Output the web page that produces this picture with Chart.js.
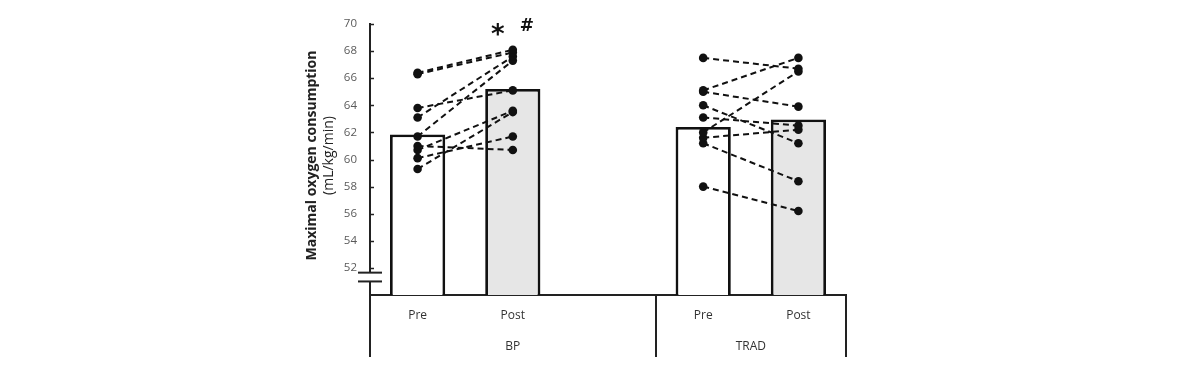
<!DOCTYPE html>
<html>
<head>
<meta charset="utf-8">
<script src="https://cdn.jsdelivr.net/npm/chart.js@4.4.1/dist/chart.umd.min.js"></script>
<style>
  html, body { margin: 0; padding: 0; background: #ffffff; }
  #wrap { width: 1200px; height: 378px; position: relative; }
</style>
</head>
<body>
<div id="wrap"><canvas id="c"></canvas></div>
<script>
// ---- data ----
const categories = ['Pre', 'Post', '', 'Pre', 'Post'];
const groups = ['BP', 'TRAD'];
const groupSpans = [[0, 3], [3, 5]];           // slot boundaries of each group
const barMeans = [61.85, 65.2, null, 62.4, 62.95];
const bpPre   = [66.4, 66.3, 63.8, 63.1, 61.7, 61.0, 60.7, 60.1, 59.3];
const bpPost  = [68.1, 67.9, 65.1, 67.6, 67.3, 60.7, 63.6, 61.7, 63.5];
const tradPre  = [67.5, 65.1, 65.0, 64.0, 63.1, 62.0, 61.6, 61.2, 58.0];
const tradPost = [66.7, 67.5, 63.9, 61.2, 62.5, 66.5, 62.2, 58.4, 56.2];
const yMin = 50, yMax = 70, yStep = 2;
const yTitleBold = 'Maximal oxygen consumption';
const yTitleUnit = '(mL/kg/min)';
const markers = ['*', '#'];
const axisBreak = [51.0, 51.65];

// ---- build datasets ----
const barColors = ['#ffffff', '#e6e6e6', '#ffffff', '#ffffff', '#e6e6e6'];
const datasets = [{
  type: 'bar',
  data: barMeans,
  backgroundColor: barColors,
  borderColor: '#111111',
  borderWidth: 2.8,
  borderSkipped: false,
  barPercentage: 0.58,
  categoryPercentage: 1,
  order: 10
}];
function addPairs(pre, post, i0) {
  pre.forEach((v, i) => {
    const row = categories.map(() => null);
    row[i0] = v;
    row[i0 + 1] = post[i];
    datasets.push({
      type: 'line',
      data: row,
      borderColor: '#111111',
      borderWidth: 2,
      borderDash: [6, 4],
      pointRadius: 4.3,
      pointBackgroundColor: '#111111',
      pointBorderWidth: 0,
      fill: false,
      spanGaps: false,
      order: 0
    });
  });
}
addPairs(bpPre, bpPost, 0);
addPairs(tradPre, tradPost, 3);

const decor = {
  id: 'decor',
  afterDraw(chart) {
    const ctx = chart.ctx;
    const xs = chart.scales.x, ys = chart.scales.y;
    const ca = chart.chartArea;
    const slot = xs.width / categories.length;
    ctx.save();
    // y tick marks (pointing inward)
    ctx.strokeStyle = '#222'; ctx.lineWidth = 1.5;
    ys.ticks.forEach(t => {
      if (t.value <= yMin) return;
      const py = Math.round(ys.getPixelForValue(t.value)) + 0.5;
      ctx.beginPath(); ctx.moveTo(ca.left, py); ctx.lineTo(ca.left + 4, py); ctx.stroke();
    });
    // axis break
    const b0 = ys.getPixelForValue(axisBreak[1]);
    const b1 = ys.getPixelForValue(axisBreak[0]);
    ctx.fillStyle = '#ffffff';
    ctx.fillRect(ca.left - 3, b0, 6, b1 - b0);
    ctx.strokeStyle = '#222'; ctx.lineWidth = 2;
    [b0, b1].forEach(py => {
      ctx.beginPath(); ctx.moveTo(ca.left - 12, py); ctx.lineTo(ca.left + 12, py); ctx.stroke();
    });
    // group separator lines and group labels
    const lineBottom = ca.bottom + 62;
    const bounds = [0, 3, 5];
    ctx.lineWidth = 2;
    bounds.forEach(k => {
      const px = Math.round(xs.left + k * slot);
      ctx.beginPath(); ctx.moveTo(px, ca.bottom); ctx.lineTo(px, lineBottom); ctx.stroke();
    });
    ctx.fillStyle = '#333';
    ctx.font = '12px "Open Sans"';
    ctx.textAlign = 'center'; ctx.textBaseline = 'middle';
    groups.forEach((g, i) => {
      const cx = xs.left + (groupSpans[i][0] + groupSpans[i][1]) / 2 * slot;
      ctx.fillText(g, cx, ca.bottom + 52);
    });
    // y-axis title
    ctx.save();
    ctx.translate(312, (ca.top + ca.bottom) / 2 - 4);
    ctx.rotate(-Math.PI / 2);
    ctx.fillStyle = '#222';
    ctx.font = 'bold 14px "Open Sans"';
    ctx.fillText(yTitleBold, 0, 0);
    ctx.font = '14px "Open Sans"';
    ctx.fillText(yTitleUnit, 0, 17);
    ctx.restore();
    // significance markers over BP Post
    const px = xs.getPixelForValue(1);
    ctx.fillStyle = '#111';
    ctx.font = 'bold 26px "DejaVu Sans"';
    ctx.fillText(markers[0], px - 15, ca.top + 12);
    ctx.font = 'bold 17px "DejaVu Sans"';
    ctx.fillText(markers[1], px + 14, ca.top + 3);
    ctx.restore();
  }
};

new Chart(document.getElementById('c'), {
  type: 'bar',
  data: { labels: categories, datasets },
  options: {
    responsive: true,
    maintainAspectRatio: false,
    animation: false,
    layout: { padding: { left: 0, right: 354, top: 24, bottom: 0 } },
    plugins: { legend: { display: false }, tooltip: { enabled: false } },
    scales: {
      x: {
        type: 'category',
        offset: true,
        grid: { display: false, drawTicks: false },
        border: { display: true, color: '#222', width: 2 },
        ticks: { color: '#333', font: { family: 'Open Sans', size: 12 }, padding: 13, maxRotation: 0, autoSkip: false },
        afterFit(scale) { scale.height = 83; }
      },
      y: {
        min: yMin, max: yMax,
        grid: { display: false, drawTicks: false },
        border: { display: true, color: '#222', width: 2 },
        ticks: {
          stepSize: yStep,
          color: '#5a5a5a',
          font: { family: 'Open Sans', size: 11.5 },
          padding: 13,
          callback: v => (v <= yMin ? '' : v)
        },
        afterFit(scale) { scale.width = 370; }
      }
    }
  },
  plugins: [decor]
});
</script>
</body>
</html>
